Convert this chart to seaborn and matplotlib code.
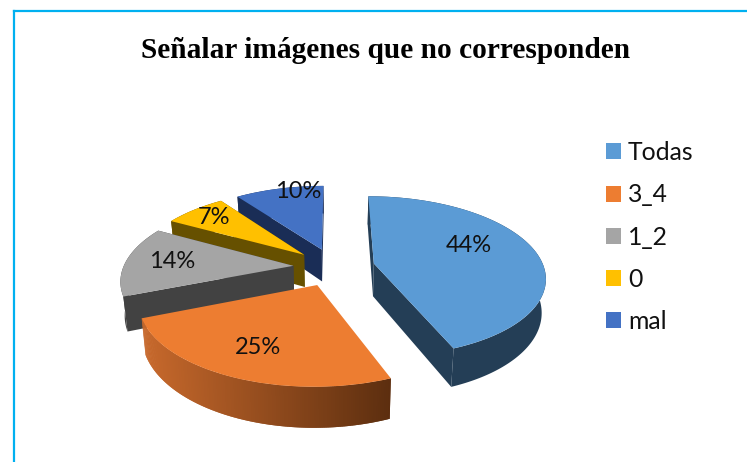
import numpy as np
import matplotlib
matplotlib.use("Agg")
import matplotlib.pyplot as plt
from matplotlib.transforms import Transform, Affine2D, IdentityTransform
from matplotlib.path import Path
from matplotlib.patches import Polygon
from matplotlib.lines import Line2D
import seaborn as sns

categories = ["Todas", "3_4", "1_2", "0", "mal"]
values = [44, 25, 14, 7, 10]
title_text = "Señalar imágenes que no corresponden"

top_colors = ["#5B9BD5", "#ED7D31", "#A5A5A5", "#FFC000", "#4472C4"]
wall_colors = ["#243E56", None, "#424242", "#665000", "#1A2D56"]
grad_left = np.array(matplotlib.colors.to_rgb("#C8692C"))
grad_right = np.array(matplotlib.colors.to_rgb("#5C2E0F"))
explode = 0.24
draw_order = [4, 3, 2, 0, 1]
label_px = [(469, 246), (258, 347), (172, 261), (214, 217), (298, 192)]

W, H = 747, 462
CX, CY, F, G, K = 334, 267, 170, 79, 0.16
DEPTH, SHRINK = 33, 0.98

sns.set_theme(style="white")
plt.rcParams["font.family"] = ["Lato", "DejaVu Sans"]

px = Affine2D().scale(1, -1).translate(0, H)
ident = IdentityTransform()


def project(xy, bottom=False):
    xy = np.asarray(xy, float)
    w = 1 + K * xy[:, 1]
    sx = F * xy[:, 0] / w
    sy = CY - G * xy[:, 1] / w
    if bottom:
        sx = sx * SHRINK
        sy = sy + DEPTH / w
    return np.column_stack([CX + sx, H - sy])


class Tilt(Transform):
    input_dims = output_dims = 2
    is_affine = False
    has_inverse = False

    def transform_non_affine(self, values):
        return project(values)

    def transform_path_non_affine(self, path):
        return Path(project(path.vertices), path.codes)


fig = plt.figure(figsize=(W / 100, H / 100), dpi=100, facecolor="white")
ax = fig.add_axes([0, 0, 1, 1])
wedges, _, autotexts = ax.pie(
    values, explode=[explode] * len(values), colors=top_colors, startangle=90,
    counterclock=False, autopct="%.0f%%", radius=1,
    wedgeprops=dict(linewidth=0), textprops=dict(fontsize=17, color="#111111"),
)
ax.set_axis_off()

tilt = Tilt()
for i in draw_order:
    w = wedges[i]
    z = draw_order.index(i) * 10
    c = np.array(w.center)
    t = np.radians(np.linspace(w.theta1, w.theta2, 161))
    rim = c + w.r * np.column_stack([np.cos(t), np.sin(t)])
    rim_top, rim_bot = project(rim), project(rim, True)
    apex_top, apex_bot = project([c]), project([c], True)
    wall = wall_colors[i]
    if wall is not None:
        for k in (0, -1):
            face = np.vstack([apex_top, rim_top[[k]], rim_bot[[k]], apex_bot])
            ax.add_patch(Polygon(face, closed=True, transform=ident, fc=wall, lw=0,
                                 clip_on=False, zorder=z + 1))
        wall_band = np.vstack([rim_top, rim_bot[::-1]])
        ax.add_patch(Polygon(wall_band, closed=True, transform=ident, fc=wall, lw=0,
                             clip_on=False, zorder=z + 2))
    else:
        xmin, xmax = rim_top[:, 0].min(), rim_top[:, 0].max()
        for j in range(len(t) - 1):
            j2 = min(j + 3, len(t))
            quad = np.vstack([rim_top[j:j2], rim_bot[j:j2][::-1]])
            f = (rim_top[j, 0] - xmin) / (xmax - xmin)
            col = tuple(grad_left + (grad_right - grad_left) * f)
            ax.add_patch(Polygon(quad, closed=True, transform=ident, fc=col, lw=0,
                                 clip_on=False, zorder=z + 2 + j * 1e-3))
    w.set_transform(tilt)
    w.set_zorder(z + 3)

for txt, pos in zip(autotexts, label_px):
    txt.set_transform(px)
    txt.set_position(pos)
    txt.set_zorder(100)
    txt.set_clip_on(False)

fig.text(385.5 / W, 1 - 51 / H, title_text, family="Liberation Serif", weight="bold",
         fontsize=21.2, color="black", ha="center", va="center")

ax.legend(wedges, categories, loc="upper left", bbox_to_anchor=(606 / W, 1 - 141 / H),
          bbox_transform=fig.transFigure, frameon=False, borderpad=0, borderaxespad=0,
          fontsize=17.8, handlelength=0.61, handleheight=0.61, handletextpad=0.28,
          labelspacing=0.78, labelcolor="#111111")

border = "#00B0F0"
fig.add_artist(Line2D([14 / W, 14 / W], [0, 1 - 11 / H], color=border, lw=1.6, solid_capstyle="projecting"))
fig.add_artist(Line2D([14 / W, 1], [1 - 11 / H, 1 - 11 / H], color=border, lw=1.6, solid_capstyle="projecting"))

fig.savefig("out.png", dpi=100, facecolor="white")
